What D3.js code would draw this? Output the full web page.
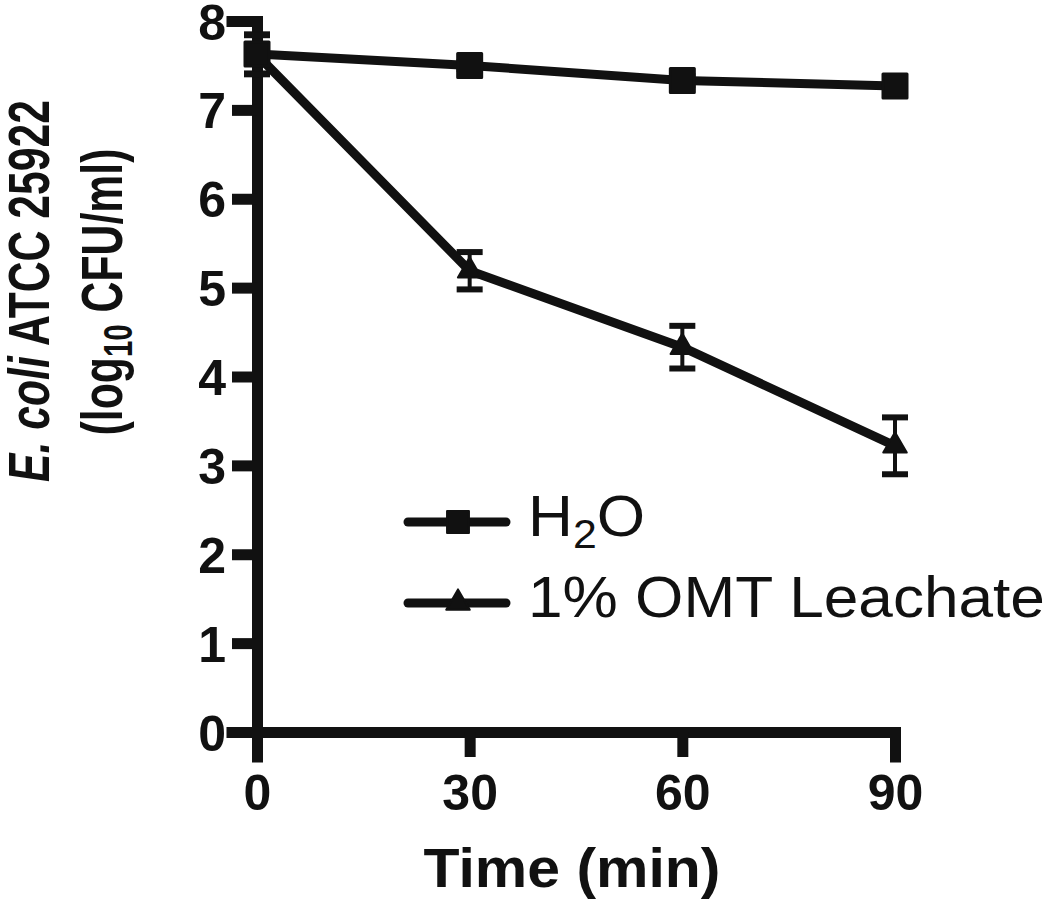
<!DOCTYPE html>
<html>
<head>
<meta charset="utf-8">
<script src="https://cdn.jsdelivr.net/npm/d3@7"></script>
<style>
  html, body { margin: 0; padding: 0; background: #fff; }
  svg { display: block; }
  text { font-family: "Liberation Sans", Arial, Helvetica, sans-serif; fill: #111; }
</style>
</head>
<body>
<div id="chart"></div>
<script>
// data
var times = [0, 30, 60, 90];
var h2oMean = [7.63, 7.50, 7.33, 7.27];
var h2oErr = [0.22, 0.04, 0.05, 0.04];
var omtMean = [7.62, 5.19, 4.33, 3.22];
var omtErr = [0.22, 0.21, 0.24, 0.32];
var yTicks = [0, 1, 2, 3, 4, 5, 6, 7, 8];
var xTicks = [0, 30, 60, 90];
var seriesNames = ["H2O", "1% OMT Leachate"];

var width = 1050, height = 902;
var ink = "#111";

var svg = d3.select("#chart").append("svg")
    .attr("width", width)
    .attr("height", height);

var x = d3.scaleLinear().domain([0, 90]).range([257, 895]);
var y = d3.scaleLinear().domain([0, 8]).range([732, 21]);

// axes
var yAxis = d3.axisLeft(y).tickValues(yTicks).tickSize(25).tickSizeOuter(25).tickPadding(6);
var xAxis = d3.axisBottom(x).tickValues(xTicks).tickSize(25).tickSizeOuter(25).tickPadding(14);

var gy = svg.append("g").attr("transform", "translate(257,0)").call(yAxis);
var gx = svg.append("g").attr("transform", "translate(0,732)").call(xAxis);

[gy, gx].forEach(function (g) {
    g.select(".domain").attr("stroke", ink).attr("stroke-width", 11)
        .attr("stroke-linejoin", "miter").attr("stroke-linecap", "square");
    g.selectAll(".tick line").attr("stroke", ink).attr("stroke-width", 11);
    g.selectAll(".tick text")
        .style("font-size", "50px").style("font-weight", "bold")
        .attr("fill", ink);
});
gy.selectAll(".tick text").attr("x", -31).attr("dy", "0.36em");
gx.selectAll(".tick text").attr("y", 40).attr("dy", "0.76em");

// error bars
function errorBars(mean, err) {
    var g = svg.append("g");
    times.forEach(function (t, i) {
        var cx = x(t), hi = y(mean[i] + err[i]), lo = y(mean[i] - err[i]);
        g.append("line").attr("x1", cx).attr("x2", cx).attr("y1", hi).attr("y2", lo)
            .attr("stroke", ink).attr("stroke-width", 4);
        [hi, lo].forEach(function (yy) {
            g.append("line").attr("x1", cx - 13).attr("x2", cx + 13).attr("y1", yy).attr("y2", yy)
                .attr("stroke", ink).attr("stroke-width", 6);
        });
    });
}
errorBars(h2oMean, h2oErr);
errorBars(omtMean, omtErr);

// lines
var line = d3.line()
    .x(function (d) { return x(d[0]); })
    .y(function (d) { return y(d[1]); });

function drawLine(mean) {
    svg.append("path")
        .datum(times.map(function (t, i) { return [t, mean[i]]; }))
        .attr("d", line)
        .attr("fill", "none")
        .attr("stroke", ink)
        .attr("stroke-width", 9)
        .attr("stroke-linejoin", "round");
}
drawLine(h2oMean);
drawLine(omtMean);

// markers
var square = d3.symbol().type(d3.symbolSquare).size(576);
var triangle = d3.symbol().type(d3.symbolTriangle).size(240);

times.forEach(function (t, i) {
    svg.append("path").attr("d", triangle)
        .attr("transform", "translate(" + x(t) + "," + y(omtMean[i]) + ")")
        .attr("fill", ink).attr("stroke", ink).attr("stroke-width", 2).attr("stroke-linejoin", "round");
});
times.forEach(function (t, i) {
    svg.append("path").attr("d", square)
        .attr("transform", "translate(" + x(t) + "," + y(h2oMean[i]) + ")")
        .attr("fill", ink).attr("stroke", ink).attr("stroke-width", 3).attr("stroke-linejoin", "round");
});

// fit text along its own direction to a measured length
function fit(sel, len, tx, ty, rot) {
    var w = sel.node().getComputedTextLength();
    var k = len / w;
    sel.attr("transform", "translate(" + tx + "," + ty + ")" + (rot ? " rotate(" + rot + ")" : "") + " scale(" + k + ",1)");
    return k;
}

// legend
var legendSquare = d3.symbol().type(d3.symbolSquare).size(480);
var legendRows = [
    { name: seriesNames[0], y: 522, symbol: legendSquare },
    { name: seriesNames[1], y: 603, symbol: triangle }
];
var legendTexts = [];
legendRows.forEach(function (r) {
    svg.append("line").attr("x1", 408).attr("x2", 506).attr("y1", r.y).attr("y2", r.y)
        .attr("stroke", ink).attr("stroke-width", 9).attr("stroke-linecap", "round");
    svg.append("path").attr("d", r.symbol)
        .attr("transform", "translate(458," + r.y + ")")
        .attr("fill", ink).attr("stroke", ink).attr("stroke-width", 2).attr("stroke-linejoin", "round");
    var t = svg.append("text").style("font-size", "58px");
    if (r.name === "H2O") {
        t.append("tspan").text("H");
        t.append("tspan").text("2").style("font-size", "40px").attr("dy", 12);
        t.append("tspan").text("O").attr("dy", -12);
    } else {
        t.text(r.name);
    }
    legendTexts.push({ t: t, y: r.y + 14 });
});
var kLeg = fit(legendTexts[1].t, 517, 528, legendTexts[1].y);
legendTexts[0].t.attr("transform", "translate(528," + legendTexts[0].y + ") scale(" + kLeg + ",1)");

// x title
var xt = svg.append("text").attr("text-anchor", "middle")
    .style("font-size", "56px").style("font-weight", "bold")
    .text("Time (min)");
fit(xt, 297, 572, 887);

// y title, two lines
var yt1 = svg.append("text").attr("text-anchor", "middle")
    .style("font-size", "58px").style("font-weight", "bold");
yt1.append("tspan").text("E. ").style("font-style", "italic");
yt1.append("tspan").text("coli").style("font-style", "italic");
yt1.append("tspan").text(" ATCC 25922");
fit(yt1, 382, 49, 291, -90);

var yt2 = svg.append("text").attr("text-anchor", "middle")
    .style("font-size", "58px").style("font-weight", "bold");
yt2.append("tspan").text("(log");
yt2.append("tspan").text("10").style("font-size", "40px").attr("dy", 10);
yt2.append("tspan").text(" CFU/ml)").attr("dy", -10);
fit(yt2, 287, 122, 292, -90);
</script>
</body>
</html>
